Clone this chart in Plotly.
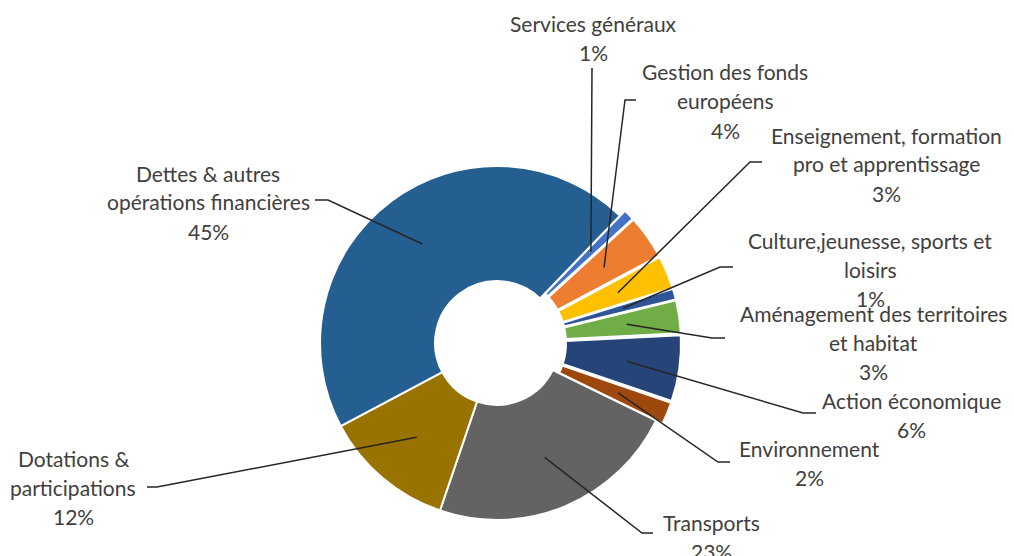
import math
import plotly.graph_objects as go

# ---------------- data ----------------
categories = [
    "Services généraux",
    "Gestion des fonds européens",
    "Enseignement, formation pro et apprentissage",
    "Culture,jeunesse, sports et loisirs",
    "Aménagement des territoires et habitat",
    "Action économique",
    "Environnement",
    "Transports",
    "Dotations & participations",
    "Dettes & autres opérations financières",
]
values = [1, 4, 3, 1, 3, 6, 2, 23, 12, 45]
label_lines = [
    ["Services généraux"],
    ["Gestion des fonds", "européens"],
    ["Enseignement, formation", "pro et apprentissage"],
    ["Culture,jeunesse, sports et", "loisirs"],
    ["Aménagement des territoires", "et habitat"],
    ["Action économique"],
    ["Environnement"],
    ["Transports"],
    ["Dotations &", "participations"],
    ["Dettes & autres", "opérations financières"],
]

# ---------------- style / layout ----------------
colors = ["#4472C4", "#ED7D31", "#FFC000", "#2F5597", "#70AD47",
          "#264478", "#9E480E", "#636363", "#997300", "#255E91"]
pulls = [0.04, 0.04, 0.04, 0.04, 0.04, 0.04, 0.04, 0, 0, 0]

W, H = 1014, 556
CX, CY, R = 497, 343, 177
HOLE = 0.35
START = 44
ANCHOR = 0.7
LINE_H = 29
FONT = dict(family="Lato, Open Sans, sans-serif", size=21, color="#404040")

# label block: (center x, first line center y)
label_pos = [(593, 24), (725, 72), (886, 135), (870, 240), (873, 313),
             (911, 400), (809, 448), (711, 522), (73, 458), (208, 173)]
# leader: elbow point, end point near label
leaders = [((592, 68), (592, 68)), ((625, 100), (636, 100)),
           ((750, 162), (762, 162)), ((720, 267), (733, 267)),
           ((712, 338), (725, 338)), ((803, 413), (816, 413)),
           ((718, 462), (730, 462)), ((642, 533), (653, 533)),
           ((157, 487), (147, 487)), ((328, 200), (315, 200))]


def px(x):
    return x / W


def py(y):
    return 1 - y / H


total = sum(values)
half = R * (1 + max(pulls))

fig = go.Figure(go.Pie(
    labels=categories, values=values, hole=HOLE, sort=False,
    direction="clockwise", rotation=START, pull=pulls,
    marker=dict(colors=colors, line=dict(color="white", width=2)),
    textinfo="none", hoverinfo="label+percent", showlegend=False,
    domain=dict(x=[px(CX - half), px(CX + half)],
                y=[py(CY + half), py(CY - half)]),
))

shapes = []
annotations = []
cum = 0
for i, v in enumerate(values):
    a = math.radians(START + 360 * (cum + v / 2) / total)
    cum += v
    ra = R * (ANCHOR + pulls[i])
    ax, ay = CX + ra * math.sin(a), CY - ra * math.cos(a)
    (ex, ey), (lx, ly) = leaders[i]
    path = f"M {px(ax)},{py(ay)} L {px(ex)},{py(ey)} L {px(lx)},{py(ly)}"
    shapes.append(dict(type="path", xref="paper", yref="paper", path=path,
                       line=dict(color="#262626", width=1.5), layer="above"))
    lines = label_lines[i] + [f"{round(100 * v / total)}%"]
    x0, y0 = label_pos[i]
    for k, t in enumerate(lines):
        annotations.append(dict(x=px(x0), y=py(y0 + k * LINE_H), xref="paper",
                                yref="paper", text=t, showarrow=False,
                                xanchor="center", yanchor="middle", font=FONT))

fig.update_layout(width=W, height=H, margin=dict(l=0, r=0, t=0, b=0),
                  paper_bgcolor="white", plot_bgcolor="white",
                  shapes=shapes, annotations=annotations)
fig.write_html("out.html", config={"displayModeBar": False},
               post_script="document.body.style.margin='0';"
                           "document.body.style.overflow='hidden';")
